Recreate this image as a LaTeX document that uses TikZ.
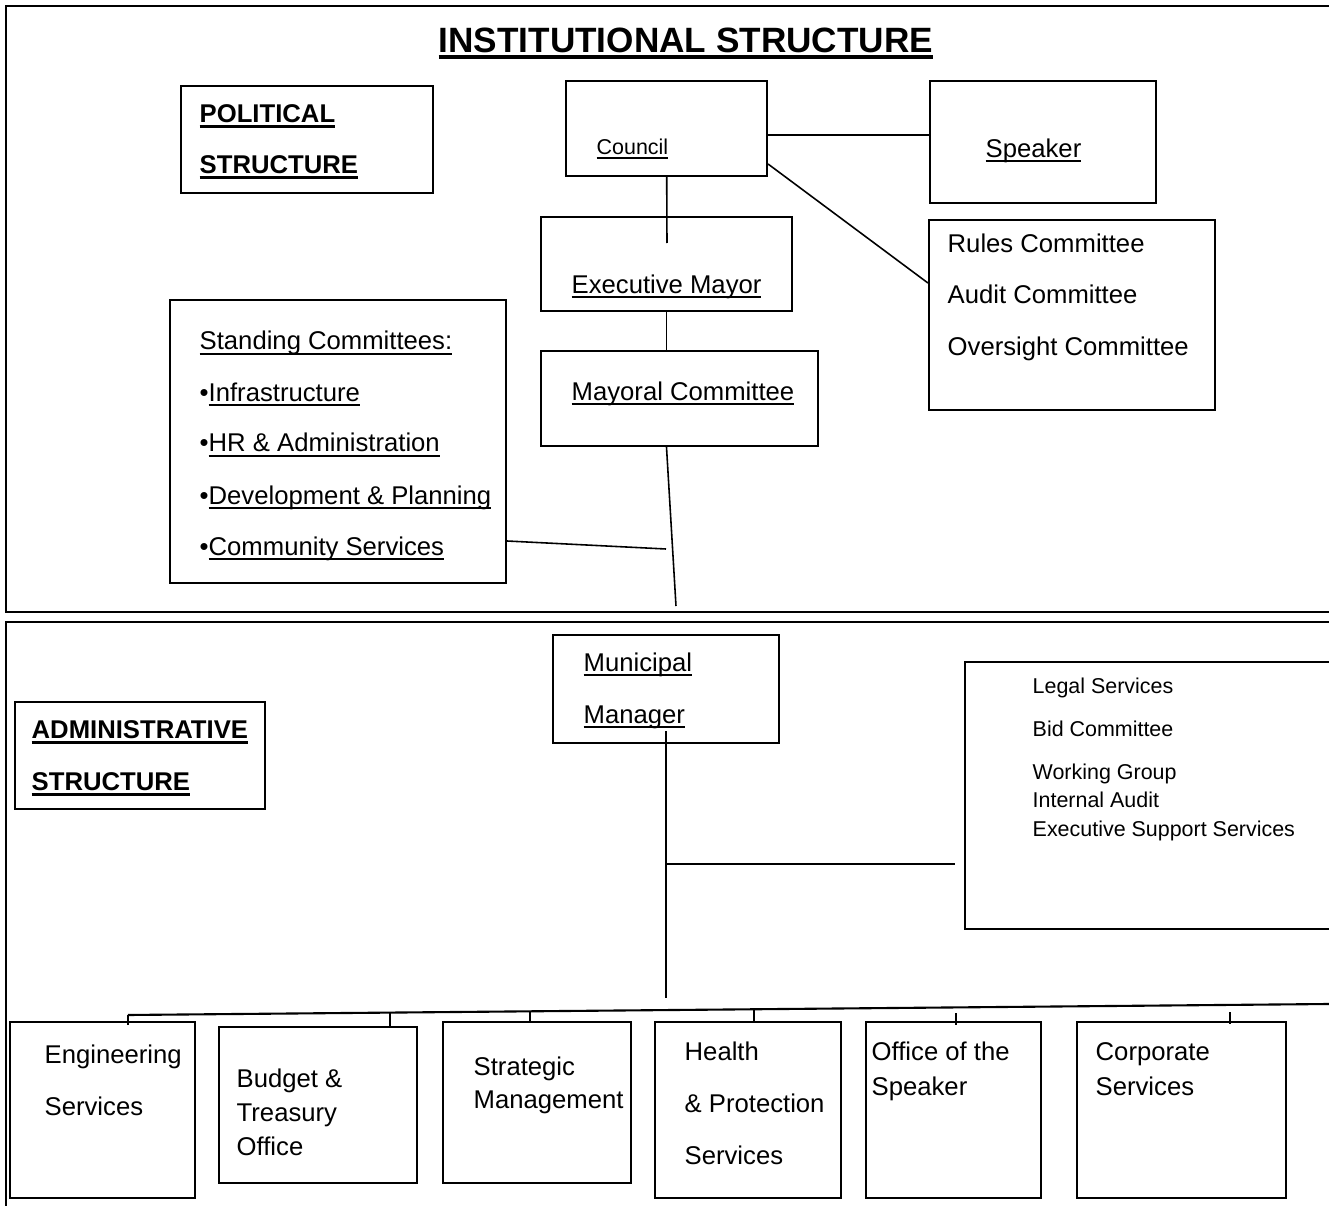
\documentclass[tikz,border=0pt]{standalone}
\usepackage{fontspec}
\setmainfont{Liberation Sans}
\usetikzlibrary{fit}

% underline: optional thickness, text
\newcommand{\uln}[2][0.4pt]{\setbox0\hbox{#2}\rlap{\rule[\dimexpr-0.9pt-#1\relax]{\wd0}{#1}}\box0}
\newcommand{\bul}[1]{\uln[0.8pt]{#1}}

\tikzset{
  box/.style={draw, line width=0.6pt, inner sep=0pt},
  panel/.style={draw, line width=0.7pt},
  conn/.style={draw, line width=0.45pt},
  txt/.style={anchor=base west, inner sep=0pt, font=\fontsize{7.3}{9}\selectfont},
  sml/.style={txt, font=\fontsize{6.1}{7.5}\selectfont},
  hd/.style={txt, font=\bfseries\fontsize{7.3}{9}\selectfont},
}

\begin{document}
\begin{tikzpicture}[x=0.01cm, y=-0.01cm]
  \path[use as bounding box, clip] (0,0) rectangle (1329,1206);

  % the two panels
  \draw[panel] (1329,6) -- (6,6) -- (6,612) -- (1329,612);
  \draw[panel] (1329,622) -- (6,622) -- (6,1206);

  \node[txt, font=\bfseries\fontsize{10}{12}\selectfont] (title) at (438,52) {\uln[1pt]{INSTITUTIONAL STRUCTURE}};

  % political structure
  \node[box, fit={(181,86) (433,193)}] (polbox) {};
  \node[hd] (pol1) at (199,122) {\bul{POLITICAL}};
  \node[hd] (pol2) at (199,173) {\bul{STRUCTURE}};

  \node[box, fit={(566,81) (767,176)}] (council) {};
  \node[sml] (councilT) at (596,154) {\uln{Council}};
  \node[box, fit={(930,81) (1156,203)}] (speaker) {};
  \node[txt] (speakerT) at (985,157) {\uln{Speaker}};
  \node[box, fit={(541,217) (792,311)}] (mayor) {};
  \node[txt] (mayorT) at (571,293) {\uln{Executive Mayor}};
  \node[box, fit={(541,351) (818,446)}] (mayco) {};
  \node[txt] (maycoT) at (571,400) {\uln{Mayoral Committee}};

  \node[box, fit={(929,220) (1215,410)}] (cttees) {};
  \node[txt] (rules) at (947,252) {Rules Committee};
  \node[txt] (audit) at (947,304) {Audit Committee};
  \node[txt] (oversight) at (947,355) {Oversight Committee};

  \node[box, fit={(170,300) (506,583)}] (standing) {};
  \node[txt] (sc0) at (199,350) {\uln{Standing Committees:}};
  \node[txt] (sc1) at (199,401) {•\uln{Infrastructure}};
  \node[txt] (sc2) at (199,452) {•\uln{HR \& Administration}};
  \node[txt] (sc3) at (199,504) {•\uln{Development \& Planning}};
  \node[txt] (sc4) at (199,555) {•\uln{Community Services}};

  \coordinate (mayorStub) at (667,243);
  \coordinate (polEnd) at (676,606);
  \coordinate (scEnd) at (666,549);
  \draw[conn] (council) -- (mayorStub);
  \draw[conn] (council.east |- 0,135) -- (speaker.west |- 0,135);
  \draw[conn] (council.east |- 0,164) -- (cttees.west |- 0,283);
  \draw[conn] (mayor.south) -- (mayor.south |- mayco.north);
  \draw[conn] (mayor.south |- mayco.south) -- (polEnd);
  \draw[conn] (standing.east |- 0,541) -- (scEnd);

  % administrative structure
  \node[box, fit={(15,702) (265,809)}] (admbox) {};
  \node[hd] (adm1) at (31,738) {\bul{ADMINISTRATIVE}};
  \node[hd] (adm2) at (31,790) {\bul{STRUCTURE}};

  \node[box, fit={(553,635) (779,743)}] (manager) {};
  \node[txt] (mm1) at (583,671) {\uln{Municipal}};
  \node[txt] (mm2) at (583,723) {\uln{Manager}};

  \node[box, fit={(965,662) (1345,929)}] (support) {};
  \node[sml] (legal) at (1032,693) {Legal Services};
  \node[sml] (bid) at (1032,736) {Bid Committee};
  \node[sml] (working) at (1032,779) {Working Group};
  \node[sml] (internal) at (1032,807) {Internal Audit};
  \node[sml] (exsup) at (1032,836) {Executive Support Services};

  \coordinate (stemEnd) at (666,998);
  \coordinate (branchEnd) at (955,864);
  \draw[conn] ([yshift=3.7pt]manager.south) -- (stemEnd);
  \draw[conn] (stemEnd |- branchEnd) -- (branchEnd);

  \coordinate (busL) at (128,1015);
  \coordinate (busR) at (1329,1004);
  \draw[conn, line width=0.6pt] (busL) -- (busR);

  % departments
  \node[box, fit={(10,1022) (195,1198)}] (eng) {};
  \node[txt] (eng1) at (44,1063) {Engineering};
  \node[txt] (eng2) at (44,1115) {Services};
  \node[box, fit={(219,1027) (417,1183)}] (budget) {};
  \node[txt] (bud1) at (236,1087) {Budget \&};
  \node[txt] (bud2) at (236,1121) {Treasury};
  \node[txt] (bud3) at (236,1155) {Office};
  \node[box, fit={(443,1022) (631,1183)}] (strat) {};
  \node[txt] (str1) at (473,1075) {Strategic};
  \node[txt] (str2) at (473,1108) {Management};
  \node[box, fit={(655,1022) (841,1198)}] (health) {};
  \node[txt] (hp1) at (684,1060) {Health};
  \node[txt] (hp2) at (684,1112) {\& Protection};
  \node[txt] (hp3) at (684,1164) {Services};
  \node[box, fit={(866,1022) (1041,1198)}] (ospeaker) {};
  \node[txt] (os1) at (871,1060) {Office of the};
  \node[txt] (os2) at (871,1095) {Speaker};
  \node[box, fit={(1077,1022) (1286,1198)}] (corp) {};
  \node[txt] (cs1) at (1095,1060) {Corporate};
  \node[txt] (cs2) at (1095,1095) {Services};

  \draw[conn] (busL) -- (128,0 |- eng.north) -- ++(0,4);
  \draw[conn] (390,1012.6) -- (390,0 |- budget.north);
  \draw[conn] (530,1011.3) -- (530,0 |- strat.north);
  \draw[conn] (754,1009.3) -- (754,0 |- health.north);
  \draw[conn] (956,1013) -- (956,0 |- ospeaker.north) -- ++(0,4);
  \draw[conn] (1230,1012) -- (1230,0 |- corp.north) -- ++(0,3);
\end{tikzpicture}
\end{document}
